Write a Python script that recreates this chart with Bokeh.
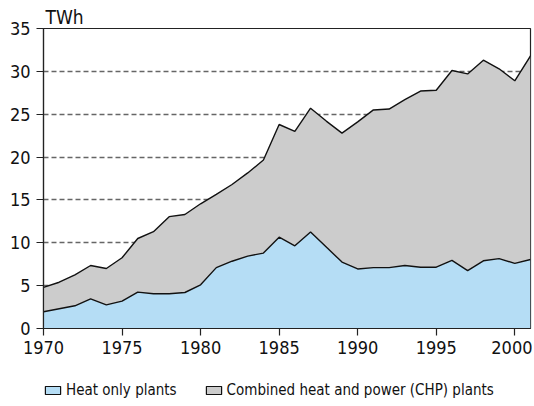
import numpy as np
from bokeh.plotting import figure
from bokeh.layouts import column
from bokeh.models import Legend, LegendItem, FixedTicker, Range1d
from bokeh.embed import file_html
from bokeh.resources import INLINE

years = list(range(1970, 2002))
heat_only = [1.95, 2.3, 2.65, 3.45, 2.75, 3.2, 4.25, 4.05, 4.05, 4.2,
             5.1, 7.1, 7.85, 8.45, 8.8, 10.65, 9.65, 11.25, 9.5, 7.75,
             6.95, 7.1, 7.1, 7.35, 7.15, 7.15, 7.95, 6.75, 7.9, 8.15,
             7.6, 8.05]
chp = [2.85, 3.1, 3.6, 3.9, 4.25, 5.05, 6.25, 7.25, 9.0, 9.1,
       9.45, 8.55, 8.95, 9.7, 10.85, 13.15, 13.35, 14.45, 14.7, 15.05,
       17.15, 18.4, 18.5, 19.35, 20.55, 20.65, 22.15, 22.95, 23.4, 22.15,
       21.3, 23.75]
series_names = ["Heat only plants", "Combined heat and power (CHP) plants"]
x_ticks = [1970, 1975, 1980, 1985, 1990, 1995, 2000]
y_ticks = [0, 5, 10, 15, 20, 25, 30, 35]
unit_label = "TWh"

FONT = "DejaVu Sans Condensed, Roboto, sans-serif"
BLUE = "#b5ddf5"
GREY = "#cccccc"

x = np.array(years, dtype=float)
h = np.array(heat_only)
total = h + np.array(chp)

p = figure(frame_width=487, frame_height=300, output_backend="svg",
           toolbar_location=None, x_range=Range1d(1970, 2001),
           y_range=Range1d(0, 35), min_border_left=43, min_border_right=2,
           min_border_top=28, min_border_bottom=40)
p.title.text = unit_label
p.title.text_font = FONT
p.title.text_font_size = "19px"
p.title.text_font_style = "normal"
p.title.text_color = "#111111"
p.title.offset = 2
p.title.standoff = 2

p.varea(x=x, y1=0, y2=h, fill_color=BLUE)
p.varea(x=x, y1=h, y2=total, fill_color=GREY)
p.line(x, h, line_color="#111111", line_width=1.4)
p.line(x, total, line_color="#111111", line_width=1.4)

p.outline_line_color = "#222222"
p.outline_line_width = 1.2
p.xgrid.grid_line_color = None
p.ygrid.grid_line_color = "#666666"
p.ygrid.grid_line_dash = "5 3"
p.ygrid.grid_line_width = 1.4
p.ygrid.ticker = FixedTicker(ticks=[5, 10, 15, 20, 25, 30])

for ax in (p.xaxis[0], p.yaxis[0]):
    ax.axis_line_color = "#222222"
    ax.axis_line_width = 1.2
    ax.major_tick_line_color = "#222222"
    ax.major_tick_line_width = 1.2
    ax.major_tick_out = 7
    ax.major_tick_in = 0
    ax.minor_tick_line_color = None
    ax.major_label_text_font = FONT
    ax.major_label_text_font_size = "18px"
    ax.major_label_text_color = "#111111"
p.xaxis[0].ticker = FixedTicker(ticks=x_ticks)
p.yaxis[0].ticker = FixedTicker(ticks=y_ticks)
p.xaxis[0].major_label_standoff = 5
p.yaxis[0].major_label_standoff = 6

# legend strip below the chart
p2 = figure(frame_width=487, frame_height=20, output_backend="svg",
            toolbar_location=None, x_axis_type=None, y_axis_type=None,
            x_range=Range1d(0, 1), y_range=Range1d(0, 1),
            min_border_left=43, min_border_right=2, min_border_top=12,
            min_border_bottom=4)
p2.outline_line_color = None
p2.grid.grid_line_color = None
nan = [np.nan]
r1 = p2.quad(left=nan, right=nan, top=nan, bottom=nan, fill_color=BLUE,
             line_color="#111111", line_width=1.2)
r2 = p2.quad(left=nan, right=nan, top=nan, bottom=nan, fill_color=GREY,
             line_color="#111111", line_width=1.2)
legend = Legend(items=[LegendItem(label=series_names[0], renderers=[r1]),
                       LegendItem(label=series_names[1], renderers=[r2])],
                orientation="horizontal", location="top_left",
                glyph_width=19, glyph_height=10, label_standoff=4,
                label_height=20, spacing=27, padding=0, margin=0,
                border_line_color=None, background_fill_alpha=0,
                label_text_font=FONT, label_text_font_size="15px",
                label_text_color="#111111")
p2.add_layout(legend, "center")

layout = column(p, p2, spacing=0)
open("out.html", "w").write(file_html(layout, INLINE))
